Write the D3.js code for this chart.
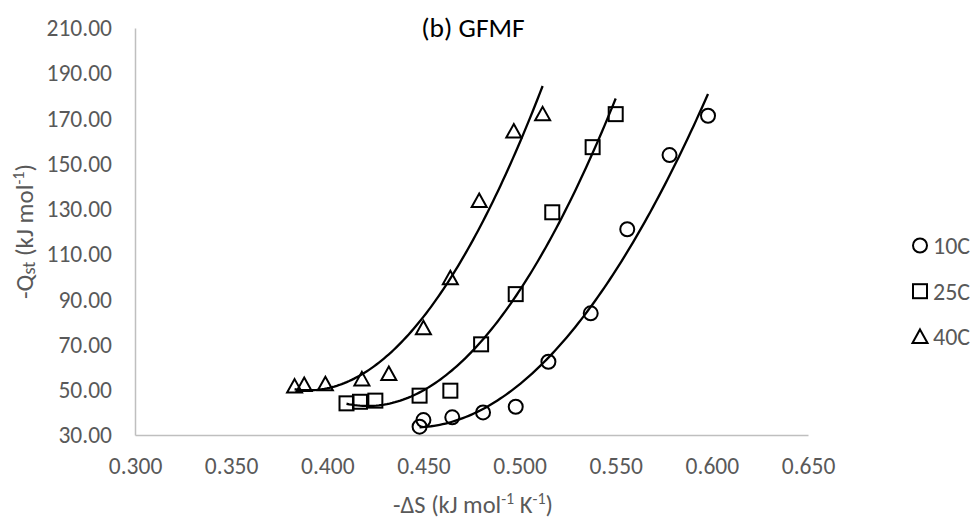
<!DOCTYPE html>
<html><head><meta charset="utf-8">
<script src="https://cdn.jsdelivr.net/npm/d3@7"></script>
<style>
body{margin:0;background:#fff;}
text{font-family:Carlito,Calibri,Lato,sans-serif;}
</style></head>
<body><svg id="c" width="974" height="519"></svg>
<script>
const seriesNames = ["10C","25C","40C"];
const x10 = [0.448,0.450,0.465,0.481,0.498,0.515,0.537,0.556,0.578,0.598];
const y10 = [33.7,36.6,37.8,40.0,42.5,62.4,83.8,121.0,153.8,171.2];
const x25 = [0.410,0.417,0.425,0.448,0.464,0.480,0.498,0.517,0.538,0.550];
const y25 = [44.0,44.7,45.2,47.4,49.6,70.1,92.3,128.5,157.3,171.9];
const x40 = [0.383,0.388,0.399,0.418,0.432,0.450,0.464,0.479,0.497,0.512];
const y40 = [51.4,52.1,52.4,54.6,57.0,77.2,99.3,133.5,164.2,171.8];
const xTicks = [0.300,0.350,0.400,0.450,0.500,0.550,0.600,0.650];
const yTicks = [30,50,70,90,110,130,150,170,190,210];

const svg = d3.select("#c");
const x = d3.scaleLinear().domain([0.3,0.65]).range([135,808]);
const y = d3.scaleLinear().domain([30,210]).range([435,28]);
const grey = "#595959";

// axes
const xa = svg.append("g").attr("transform","translate(0,435)")
  .call(d3.axisBottom(x).tickValues(xTicks).tickSize(0).tickFormat(d3.format(".3f")));
const ya = svg.append("g").attr("transform","translate(135,0)")
  .call(d3.axisLeft(y).tickValues(yTicks).tickSize(0).tickFormat(d3.format(".2f")));
[xa,ya].forEach(a=>{
  a.select(".domain").attr("stroke","#bfbfbf").attr("stroke-width",1.5);
  a.selectAll("text").attr("fill",grey).style("font-size","23.5px");
});
xa.selectAll("text").attr("dy","0").attr("y",39);
ya.selectAll("text").attr("x",-23).attr("dy","0.33em");

// quadratic least squares trendline
function quadFit(xs, ys){
  let n=xs.length, s=[0,0,0,0,0], t=[0,0,0];
  for(let i=0;i<n;i++){const a=xs[i];let p=1;
    for(let k=0;k<5;k++){s[k]+=p; if(k<3) t[k]+=p*ys[i]; p*=a;}}
  const M=[[s[0],s[1],s[2],t[0]],[s[1],s[2],s[3],t[1]],[s[2],s[3],s[4],t[2]]];
  for(let i=0;i<3;i++){for(let j=i+1;j<3;j++){const f=M[j][i]/M[i][i];for(let k=i;k<4;k++)M[j][k]-=f*M[i][k];}}
  const c=[0,0,0];
  for(let i=2;i>=0;i--){let v=M[i][3];for(let k=i+1;k<3;k++)v-=M[i][k]*c[k];c[i]=v/M[i][i];}
  return c;
}
const sets = [[x10,y10,"circle"],[x25,y25,"square"],[x40,y40,"triangle"]];
const line = d3.line().x(d=>x(d[0])).y(d=>y(d[1]));
sets.forEach(([xs,ys])=>{
  const c = quadFit(xs,ys);
  const lo=d3.min(xs), hi=d3.max(xs);
  const pts = d3.range(0,101).map(i=>{const a=lo+(hi-lo)*i/100;return [a,c[0]+c[1]*a+c[2]*a*a];});
  svg.append("path").attr("d",line(pts)).attr("fill","none").attr("stroke","#000").attr("stroke-width",2.3);
});

function marker(g, type, cx, cy){
  if(type==="circle") g.append("circle").attr("cx",cx).attr("cy",cy).attr("r",7);
  else if(type==="square") g.append("rect").attr("x",cx-7).attr("y",cy-7).attr("width",14).attr("height",14);
  else g.append("path").attr("d",`M${cx},${cy-7.5}L${cx+7.5},${cy+6}L${cx-7.5},${cy+6}Z`);
}
sets.forEach(([xs,ys,type])=>{
  const g = svg.append("g").attr("fill","none").attr("stroke","#000").attr("stroke-width",2);
  xs.forEach((v,i)=>marker(g,type,x(v),y(ys[i])));
});

// legend
seriesNames.forEach((n,i)=>{
  const ly = 245.5 + i*45.7;
  const g = svg.append("g").attr("fill","none").attr("stroke","#000").attr("stroke-width",2);
  marker(g, sets[i][2], 920, ly);
  svg.append("text").attr("x",933).attr("y",ly+8.5).attr("fill",grey)
    .style("font-size","24px").text(n);
});

// title
svg.append("text").attr("x",473).attr("y",37).attr("text-anchor","middle")
  .attr("fill","#000").style("font-size","27.5px").text("(b) GFMF");

// axis titles
const xt = svg.append("text").attr("x",473).attr("y",513).attr("text-anchor","middle")
  .attr("fill",grey).style("font-size","24.5px");
xt.append("tspan").text("-ΔS (kJ mol");
xt.append("tspan").attr("dy",-9).style("font-size","16px").text("-1");
xt.append("tspan").attr("dy",9).text(" K");
xt.append("tspan").attr("dy",-9).style("font-size","16px").text("-1");
xt.append("tspan").attr("dy",9).text(")");

const yt = svg.append("text").attr("transform","translate(33,231.5) rotate(-90)")
  .attr("text-anchor","middle").attr("fill",grey).style("font-size","25px");
yt.append("tspan").text("-Q");
yt.append("tspan").attr("dy",2).style("font-size","18px").text("st");
yt.append("tspan").attr("dy",-2).text(" (kJ mol");
yt.append("tspan").attr("dy",-9).style("font-size","16px").text("-1");
yt.append("tspan").attr("dy",9).text(")");
</script></body></html>
